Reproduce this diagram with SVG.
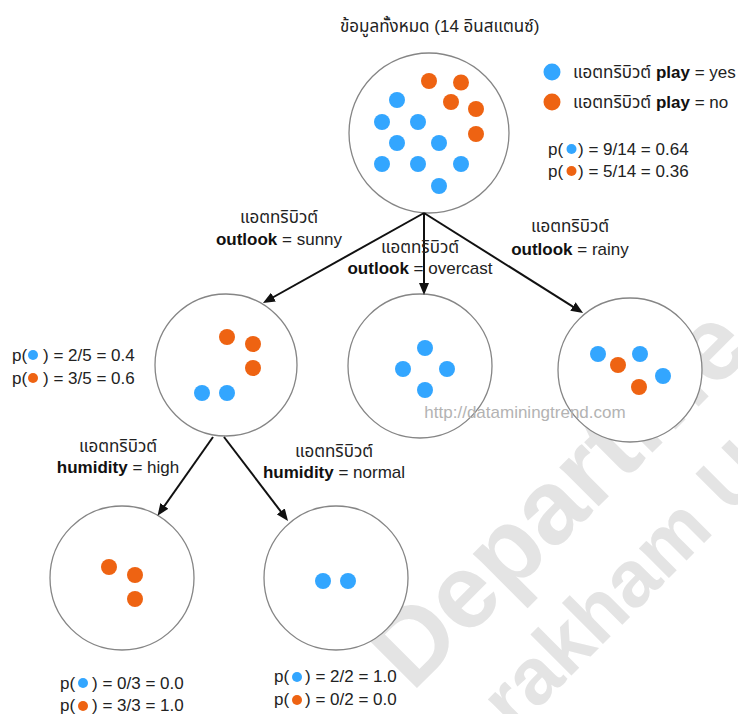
<svg xmlns="http://www.w3.org/2000/svg" width="738" height="714" viewBox="0 0 738 714">
  <style>
    text { font-family: "Liberation Sans", "Noto Sans Thai", "Noto Sans", sans-serif; font-size: 17px; fill: #222; }
    .b { font-weight: bold; fill: #111; }
    .mid { text-anchor: middle; }
    .node { fill: #fff; stroke: #858585; stroke-width: 1.3; }
    .yes { fill: #33a6ff; }
    .no { fill: #ee6312; }
    .edge { stroke: #111; stroke-width: 2; fill: none; marker-end: url(#arrow); }
    .wm { font-weight: bold; fill: #e4e4e4; }
    .wm1 { font-size: 105px; }
    .wm2 { font-size: 80px; }
    .url { fill: #b3b3b3; }
  </style>
  <defs>
    <marker id="arrow" viewBox="0 0 12 10" refX="6" refY="5" markerWidth="12" markerHeight="10" markerUnits="userSpaceOnUse" orient="auto">
      <path d="M0,0 L12,5 L0,10 z" fill="#111"/>
    </marker>
  </defs>

  <rect width="738" height="714" fill="#fff"/>

  <!-- background watermark -->
  <g id="watermark">
    <text class="wm wm1" transform="translate(412,693) rotate(-45)">Departme</text>
    <text class="wm wm2" transform="translate(514,733) rotate(-45)">rakham Un</text>
  </g>

  <!-- root: whole dataset -->
  <g id="root">
    <text x="340" y="32">ข้อมูลทั้งหมด (14 อินสแตนซ์)</text>
    <circle class="node" cx="429" cy="133" r="80"/>
    <circle class="no" cx="429" cy="81" r="8"/>
    <circle class="no" cx="461" cy="82.5" r="8"/>
    <circle class="no" cx="451" cy="102" r="8"/>
    <circle class="no" cx="476" cy="109" r="8"/>
    <circle class="no" cx="476" cy="134" r="8"/>
    <circle class="yes" cx="397" cy="100" r="8"/>
    <circle class="yes" cx="382" cy="122" r="8"/>
    <circle class="yes" cx="418" cy="122" r="8"/>
    <circle class="yes" cx="397" cy="143" r="8"/>
    <circle class="yes" cx="439" cy="143" r="8"/>
    <circle class="yes" cx="382" cy="164" r="8"/>
    <circle class="yes" cx="418" cy="164" r="8"/>
    <circle class="yes" cx="461" cy="164" r="8"/>
    <circle class="yes" cx="439" cy="186" r="8"/>
  </g>

  <!-- legend and root probabilities -->
  <g id="legend">
    <circle class="yes" cx="552" cy="72" r="8.5"/>
    <text x="573" y="78">แอตทริบิวต์ <tspan class="b">play</tspan> = yes</text>
    <circle class="no" cx="552" cy="102" r="8.5"/>
    <text x="573" y="108">แอตทริบิวต์ <tspan class="b">play</tspan> = no</text>
    <text x="548" y="155">p(</text><circle class="yes" cx="571.5" cy="149" r="5"/><text x="578" y="155">) = 9/14 = 0.64</text>
    <text x="548" y="177">p(</text><circle class="no" cx="571.5" cy="171" r="5"/><text x="578" y="177">) = 5/14 = 0.36</text>
  </g>

  <!-- outlook = sunny -->
  <g id="sunny">
    <circle class="node" cx="226" cy="365" r="71"/>
    <circle class="no" cx="227" cy="337" r="8"/>
    <circle class="no" cx="253" cy="344" r="8"/>
    <circle class="no" cx="253" cy="368" r="8"/>
    <circle class="yes" cx="202" cy="393" r="8"/>
    <circle class="yes" cx="227" cy="393" r="8"/>
    <text x="12" y="361">p(</text><circle class="yes" cx="33" cy="355" r="5"/><text x="43" y="361">) = 2/5 = 0.4</text>
    <text x="12" y="384">p(</text><circle class="no" cx="33" cy="378" r="5"/><text x="43" y="384">) = 3/5 = 0.6</text>
  </g>

  <!-- outlook = overcast -->
  <g id="overcast">
    <circle class="node" cx="420" cy="366" r="72"/>
    <circle class="yes" cx="425" cy="348" r="8"/>
    <circle class="yes" cx="403" cy="369" r="8"/>
    <circle class="yes" cx="447" cy="369" r="8"/>
    <circle class="yes" cx="425" cy="390" r="8"/>
  </g>

  <!-- outlook = rainy -->
  <g id="rainy">
    <circle class="node" cx="630" cy="370" r="72"/>
    <circle class="yes" cx="598" cy="354" r="8"/>
    <circle class="yes" cx="640" cy="354" r="8"/>
    <circle class="yes" cx="663" cy="376" r="8"/>
    <circle class="no" cx="618" cy="365" r="8"/>
    <circle class="no" cx="639" cy="387" r="8"/>
  </g>

  <text class="url mid" x="525" y="418">http://dataminingtrend.com</text>

  <!-- humidity = high -->
  <g id="high">
    <circle class="node" cx="122" cy="578" r="72"/>
    <circle class="no" cx="109" cy="567" r="8"/>
    <circle class="no" cx="135" cy="575" r="8"/>
    <circle class="no" cx="135" cy="599" r="8"/>
    <text x="60" y="689">p(</text><circle class="yes" cx="83" cy="683" r="5"/><text x="92" y="689">) = 0/3 = 0.0</text>
    <text x="60" y="711">p(</text><circle class="no" cx="83" cy="706" r="5"/><text x="92" y="711">) = 3/3 = 1.0</text>
  </g>

  <!-- humidity = normal -->
  <g id="normal">
    <circle class="node" cx="336" cy="578" r="72"/>
    <circle class="yes" cx="323" cy="581" r="8"/>
    <circle class="yes" cx="348" cy="581" r="8"/>
    <text x="274" y="682">p(</text><circle class="yes" cx="297" cy="677" r="5"/><text x="305" y="682">) = 2/2 = 1.0</text>
    <text x="274" y="705">p(</text><circle class="no" cx="297" cy="700" r="5"/><text x="305" y="705">) = 0/2 = 0.0</text>
  </g>

  <!-- split connectors -->
  <g id="connectors">
    <line class="edge" x1="424" y1="213" x2="268.2" y2="300"/>
    <line class="edge" x1="424" y1="213" x2="424" y2="289"/>
    <line class="edge" x1="424" y1="213" x2="578" y2="309.8"/>
    <line class="edge" x1="213" y1="437" x2="161" y2="510.8"/>
    <line class="edge" x1="224" y1="437" x2="284.4" y2="516.2"/>
  </g>

  <!-- connector labels -->
  <g id="labels">
    <text class="mid" x="279" y="223">แอตทริบิวต์</text>
    <text class="mid" x="279" y="245"><tspan class="b">outlook</tspan> = sunny</text>
    <text class="mid" x="420" y="253">แอตทริบิวต์</text>
    <text class="mid" x="420" y="274"><tspan class="b">outlook</tspan> = overcast</text>
    <text class="mid" x="570" y="232">แอตทริบิวต์</text>
    <text class="mid" x="570" y="255"><tspan class="b">outlook</tspan> = rainy</text>
    <text class="mid" x="118" y="452">แอตทริบิวต์</text>
    <text class="mid" x="118" y="473"><tspan class="b">humidity</tspan> = high</text>
    <text class="mid" x="334" y="457">แอตทริบิวต์</text>
    <text class="mid" x="334" y="478"><tspan class="b">humidity</tspan> = normal</text>
  </g>
</svg>
